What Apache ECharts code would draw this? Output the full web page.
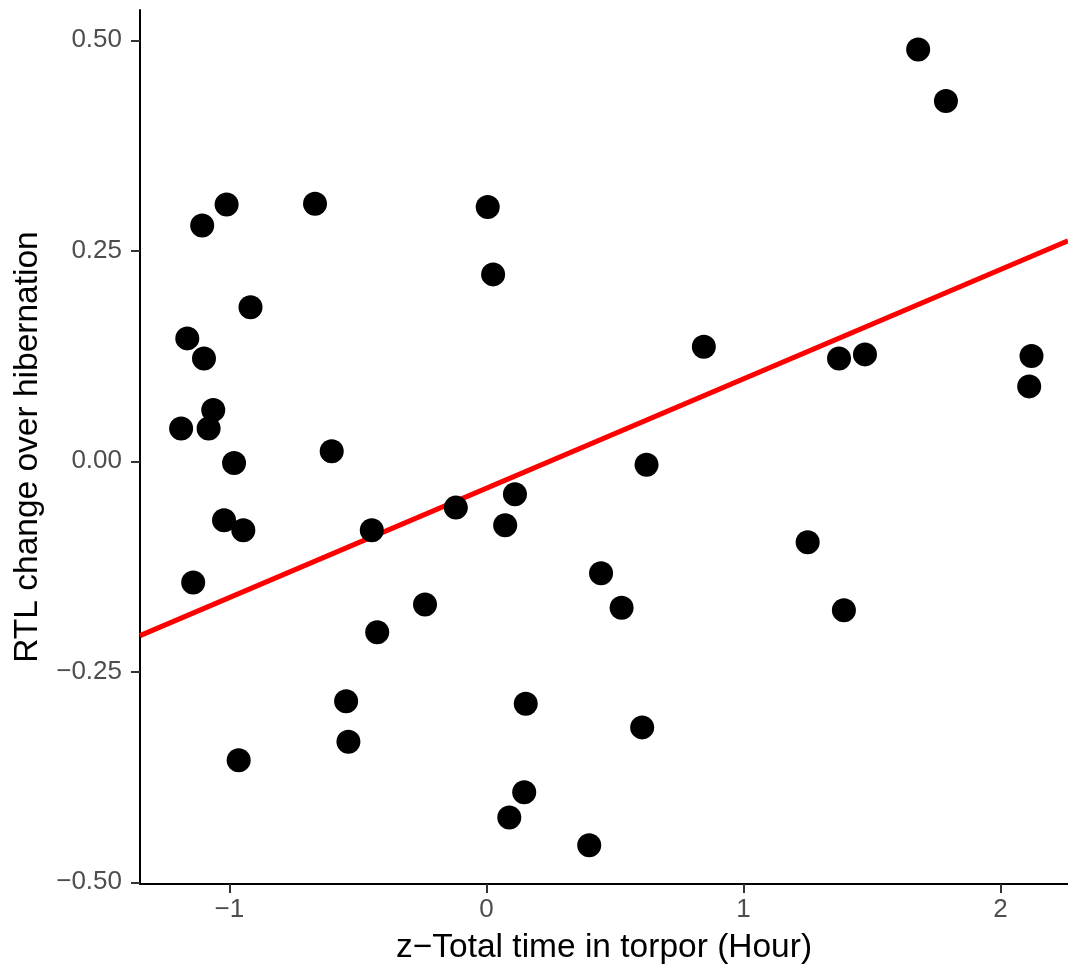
<!DOCTYPE html>
<html>
<head>
<meta charset="utf-8">
<script src="https://cdn.jsdelivr.net/npm/echarts@6/dist/echarts.min.js"></script>
<style>
  html, body { margin: 0; padding: 0; background: #ffffff; }
  #chart { width: 1068px; height: 970px; }
</style>
</head>
<body>
<div id="chart"></div>
<script>
// ---- data ----
const xValues = [1.680, 1.788, -1.011, -1.106, -0.667, 0.005, 0.026, -0.918, -1.164, -1.099,
                 0.846, 1.372, 1.473, 2.121, 2.112, -1.063, -1.188, -1.081, -0.982, -0.602,
                 0.623, -1.021, -0.946, -0.119, 0.111, 0.073, -0.446, -1.141, -0.239, -0.425,
                 0.446, 0.526, 1.250, 1.391, -0.546, -0.537, 0.153, 0.606, -0.964, 0.147,
                 0.089, 0.400];
const yValues = [0.489, 0.428, 0.305, 0.280, 0.306, 0.302, 0.222, 0.183, 0.146, 0.122,
                 0.136, 0.122, 0.127, 0.125, 0.089, 0.061, 0.039, 0.039, -0.002, 0.012,
                 -0.004, -0.070, -0.082, -0.055, -0.039, -0.076, -0.082, -0.144, -0.170, -0.203,
                 -0.133, -0.174, -0.096, -0.177, -0.285, -0.333, -0.288, -0.316, -0.355, -0.393,
                 -0.423, -0.456];
// fitted regression line endpoints (spans the full panel)
const fitX = [-1.348, 2.263];
const fitY = [-0.207, 0.262];
// axis ticks and their labels
const xTicks = [-1, 0, 1, 2];
const xTickLabels = ['\u22121', '0', '1', '2'];
const yTicks = [-0.5, -0.25, 0, 0.25, 0.5];
const yTickLabels = ['\u22120.50', '\u22120.25', '0.00', '0.25', '0.50'];
const xTitle = 'z\u2212Total time in torpor (Hour)';
const yTitle = 'RTL change over hibernation';

// ---- build chart ----
const points = xValues.map((x, i) => [x, yValues[i]]);
const fitLine = fitX.map((x, i) => [x, fitY[i]]);
const FONT = '"Liberation Sans", Arial, sans-serif';

const chart = echarts.init(document.getElementById('chart'), null, { renderer: 'canvas' });
chart.setOption({
  animation: false,
  backgroundColor: '#ffffff',
  grid: { left: 140, right: 0, top: 10, bottom: 85, containLabel: false },
  xAxis: {
    type: 'value',
    min: -1.348,
    max: 2.263,
    name: xTitle,
    nameLocation: 'middle',
    nameGap: 47,
    nameTextStyle: { color: '#000000', fontSize: 33.5, fontFamily: FONT },
    axisLine: { show: true, onZero: false, lineStyle: { color: '#000000', width: 2 } },
    axisTick: { show: true, length: 9, customValues: xTicks, lineStyle: { color: '#333333', width: 2 } },
    axisLabel: {
      customValues: xTicks,
      margin: 13,
      color: '#4D4D4D',
      fontSize: 26,
      fontFamily: FONT,
      formatter: v => { const i = xTicks.indexOf(v); return i >= 0 ? xTickLabels[i] : ''; }
    },
    splitLine: { show: false }
  },
  yAxis: {
    type: 'value',
    min: -0.502,
    max: 0.536,
    name: yTitle,
    nameLocation: 'middle',
    nameGap: 95,
    nameRotate: 90,
    nameTextStyle: { color: '#000000', fontSize: 33.5, fontFamily: FONT },
    axisLine: { show: true, onZero: false, lineStyle: { color: '#000000', width: 2 } },
    axisTick: { show: true, length: 9, customValues: yTicks, lineStyle: { color: '#333333', width: 2 } },
    axisLabel: {
      customValues: yTicks,
      margin: 18,
      color: '#4D4D4D',
      fontSize: 26,
      fontFamily: FONT,
      formatter: v => { const i = yTicks.indexOf(v); return i >= 0 ? yTickLabels[i] : ''; }
    },
    splitLine: { show: false }
  },
  series: [
    {
      type: 'line',
      data: fitLine,
      showSymbol: false,
      symbol: 'none',
      lineStyle: { color: '#FF0000', width: 5 },
      z: 2,
      silent: true
    },
    {
      type: 'scatter',
      data: points,
      symbol: 'circle',
      symbolSize: 24,
      itemStyle: { color: '#000000', opacity: 1 },
      z: 3,
      silent: true
    }
  ]
});
</script>
</body>
</html>
